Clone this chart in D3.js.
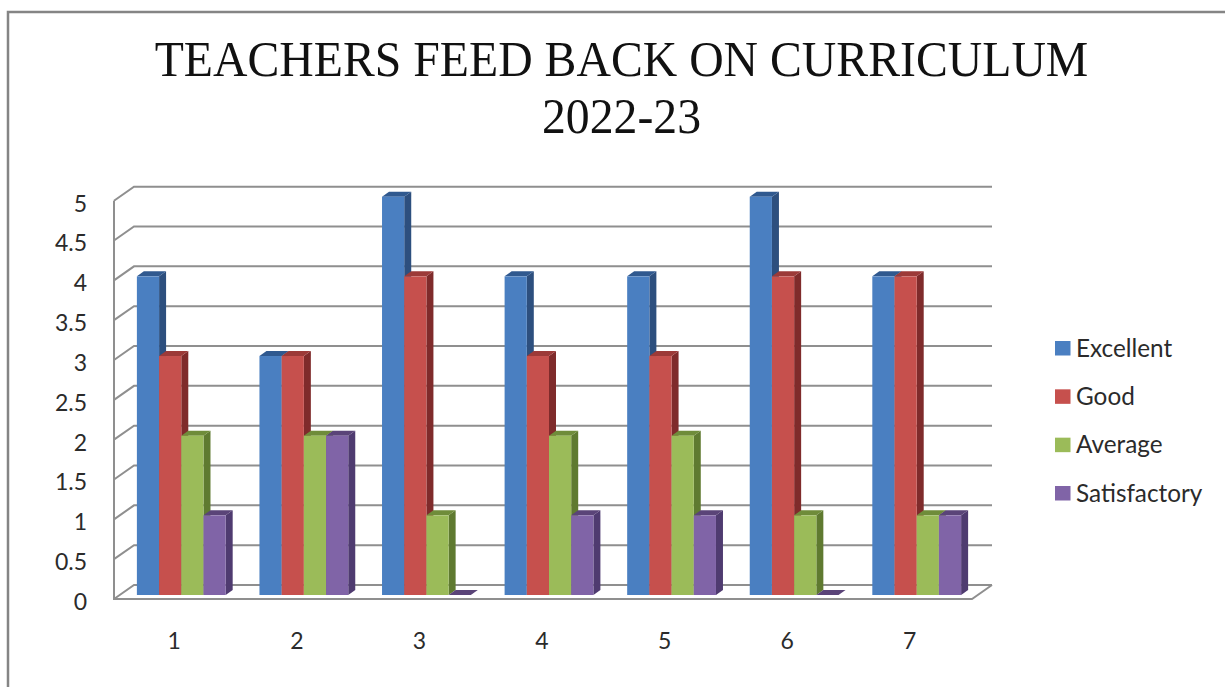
<!DOCTYPE html>
<html>

<head>
  <title>Teachers feed back on curriculum</title>
  <meta charset="utf-8">
  <style>
    html, body { margin: 0; padding: 0; background: #fff; overflow: hidden; }
    svg { display: block; }
    .axis text { font-family: Lato, "Open Sans", sans-serif; font-size: 23px; fill: #2b2b2b; }
    .legend text { font-family: Lato, "Open Sans", sans-serif; font-size: 24.3px; fill: #2b2b2b; }
    .title { font-family: "Liberation Serif", serif; font-size: 50px; fill: #111; text-anchor: middle; }
  </style>
</head>

<body>
  <div class="chart-container"></div>
  <script src="https://cdn.jsdelivr.net/npm/d3@7"></script>
  <script>
    var categories = ['1', '2', '3', '4', '5', '6', '7'];
    var seriesNames = ['Excellent', 'Good', 'Average', 'Satisfactory'];
    var excellent = [4, 3, 5, 4, 4, 5, 4];
    var good = [3, 3, 4, 3, 3, 4, 4];
    var average = [2, 2, 1, 2, 2, 1, 1];
    var satisfactory = [1, 2, 0, 1, 1, 0, 1];
    var seriesValues = [excellent, good, average, satisfactory];
    var yTicks = [0, 0.5, 1, 1.5, 2, 2.5, 3, 3.5, 4, 4.5, 5];
    var titleLines = ['TEACHERS FEED BACK ON CURRICULUM', '2022-23'];

    var width = 1225, height = 687;
    var gridColor = '#8f8f8f';

    // front, top and side faces of the 3d bars
    var faceColors = ['#4a7fc1', '#c6504d', '#9bbb59', '#8064a7'];
    var topColors = ['#30598f', '#9c3a38', '#6f8c3a', '#5a4478'];
    var sideColors = ['#2d4f7e', '#7f2b2b', '#5f7a30', '#4f3b70'];

    // plot floor, the back wall sits up and to the right of it
    var left = 114, right = 972, base = 599, top5 = 200.7;
    var wallDx = 20, wallDy = -14;
    var barOffsetX = 6, barOffsetY = -4;
    var barDx = 7, barDy = -5;

    var x = d3.scaleBand().domain(categories).range([left, right]);
    var y = d3.scaleLinear().domain([0, 5]).range([base, top5]);
    var barX = d3.scaleBand().domain(seriesNames).range([-44.4, 44.4]);

    var svg = d3.select('.chart-container').append('svg')
      .attr('width', width)
      .attr('height', height);

    svg.append('rect')
      .attr('width', width)
      .attr('height', height)
      .attr('fill', '#fff');

    // outer frame, runs off the right and bottom of the picture
    svg.append('path')
      .attr('d', 'M8,' + height + 'V12H' + width)
      .attr('fill', 'none')
      .attr('stroke', '#858585')
      .attr('stroke-width', 2.5);

    // title is a bit narrower than the serif font at this height
    svg.selectAll('.title')
      .data(titleLines)
      .enter().append('text')
      .attr('class', 'title')
      .attr('transform', function (d, i) {
        return 'translate(621.5,' + (76 + i * 57) + ') scale(0.955,1)';
      })
      .text(function (d) { return d; });

    // walls and grid lines
    var grid = svg.append('g')
      .attr('fill', 'none')
      .attr('stroke', gridColor)
      .attr('stroke-width', 2);

    grid.selectAll('path')
      .data(yTicks)
      .enter().append('path')
      .attr('d', function (d) {
        return 'M' + left + ',' + y(d) + 'l' + wallDx + ',' + wallDy + 'H' + (right + wallDx);
      });

    grid.append('path')
      .attr('d', 'M' + left + ',' + y(5) + 'V' + base + 'H' + right + 'l' + wallDx + ',' + wallDy);

    // bars, drawn left to right so that a bar hides the side of the one before it
    categories.forEach(function (cat, c) {
      var g = svg.append('g')
        .attr('transform', 'translate(' + (x(cat) + x.bandwidth() / 2 + barOffsetX) + ',' + barOffsetY + ')');

      seriesNames.forEach(function (name, s) {
        var v = seriesValues[s][c];
        var x0 = barX(name), w = barX.bandwidth(), y0 = y(v), y1 = y(0);

        g.append('path')
          .attr('fill', sideColors[s])
          .attr('d', 'M' + (x0 + w) + ',' + y0 + 'l' + barDx + ',' + barDy + 'V' + (y1 + barDy) + 'l' + (-barDx) + ',' + (-barDy) + 'Z');
        g.append('path')
          .attr('fill', topColors[s])
          .attr('d', 'M' + x0 + ',' + y0 + 'l' + barDx + ',' + barDy + 'h' + w + 'l' + (-barDx) + ',' + (-barDy) + 'Z');
        g.append('rect')
          .attr('x', x0)
          .attr('y', y0)
          .attr('width', w)
          .attr('height', y1 - y0)
          .attr('fill', faceColors[s]);
      });
    });

    // axes
    var yAxis = d3.axisLeft(y).tickValues(yTicks).tickSize(0).tickPadding(0)
      .tickFormat(function (d) { return String(d); });
    var gy = svg.append('g')
      .attr('class', 'axis')
      .attr('transform', 'translate(87,3)')
      .call(yAxis);
    gy.select('.domain').remove();

    var xAxis = d3.axisBottom(x).tickSize(0).tickPadding(0);
    var gx = svg.append('g')
      .attr('class', 'axis')
      .attr('transform', 'translate(-1,633)')
      .call(xAxis);
    gx.select('.domain').remove();

    // legend
    var legendY = d3.scalePoint().domain(seriesNames).range([348, 493]);
    var legend = svg.append('g').attr('class', 'legend');
    seriesNames.forEach(function (name, s) {
      legend.append('rect')
        .attr('x', 1055)
        .attr('y', legendY(name) - 7)
        .attr('width', 15.5)
        .attr('height', 14.5)
        .attr('fill', faceColors[s]);
      legend.append('text')
        .attr('x', 1076)
        .attr('y', legendY(name))
        .attr('dy', '0.35em')
        .text(name);
    });
  </script>
</body>

</html>
